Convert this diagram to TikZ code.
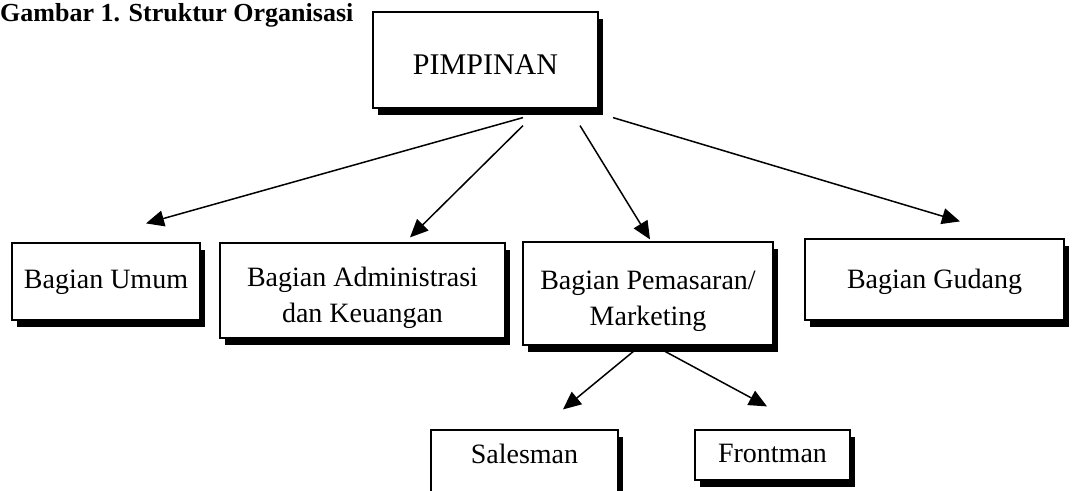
\documentclass[tikz,border=0pt]{standalone}
\usepackage{fontspec}
\setmainfont{Liberation Serif}
\usetikzlibrary{arrows.meta,shadows,calc}
\newcommand\boxtxt[2]{\raisebox{#1}[0pt][0pt]{\begin{tabular}[b]{@{}c@{}}#2\end{tabular}}}
\tikzset{
  box/.style={draw=black, line width=1.2pt, fill=white, align=center,
    inner sep=0pt, font=\fontsize{28}{36}\selectfont,
    drop shadow={shadow xshift=5pt, shadow yshift=-7pt, fill=black, opacity=1}},
  arr/.style={line width=1.5pt, -{Triangle[length=18pt,width=16pt]}},
}
\begin{document}
\begin{tikzpicture}[x=1pt,y=-1pt]
\useasboundingbox (0,0) rectangle (1083,490);
\clip (0,0) rectangle (1083,490);
\node[anchor=base west, font=\fontsize{26}{31}\selectfont\bfseries, inner sep=0pt] (title) at (0,21) {Gambar 1. Struktur Organisasi};
\node[box, minimum width=225pt, minimum height=96pt, font=\fontsize{30}{36}\selectfont] (pim) at (485.5,60) {\boxtxt{-14pt}{PIMPINAN}};
\node[box, minimum width=188pt, minimum height=77pt] (umum) at (106,281.5) {\boxtxt{-6.5pt}{Bagian Umum}};
\node[box, minimum width=285pt, minimum height=95pt] (admin) at (362.5,290.5) {\boxtxt{-31.5pt}{Bagian Administrasi\\dan Keuangan}};
\node[box, minimum width=250pt, minimum height=103pt] (pem) at (648,293.5) {\boxtxt{-31.5pt}{Bagian Pemasaran/\\Marketing}};
\node[box, minimum width=259pt, minimum height=81pt] (gud) at (934.5,279.5) {\boxtxt{-8.5pt}{Bagian Gudang}};
\node[box, minimum width=187pt, minimum height=76pt] (sales) at (524.5,468) {\boxtxt{5pt}{Salesman}};
\node[box, minimum width=155pt, minimum height=50pt] (front) at (772.5,455) {\boxtxt{-7pt}{Frontman}};
\draw[arr] ($(pim.south)+(37.5,9)$) -- ($(umum.north)+(40,-19)$);
\draw[arr] ($(pim.south)+(37.5,17)$) -- ($(admin.north)+(47.5,-5)$);
\draw[arr] ($(pim.south)+(94.5,17)$) -- ($(pem.north)+(2,-2)$);
\draw[arr] ($(pim.south)+(127.5,9)$) -- ($(gud.north)+(25.5,-17)$);
\draw[arr] ($(pem.south)+(-10,2)$) -- ($(sales.north)+(38.5,-20)$);
\draw[arr] ($(pem.south)+(10,2)$) -- ($(front.north)+(-5.5,-23)$);
\end{tikzpicture}
\end{document}
